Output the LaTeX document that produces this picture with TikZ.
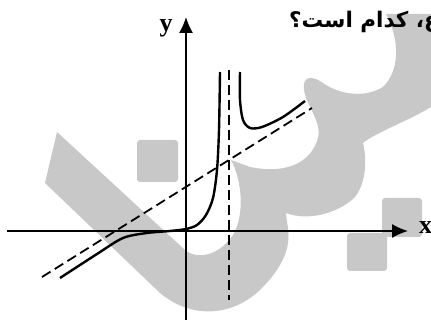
\documentclass[tikz,border=0pt]{standalone}
\usepackage{fontspec}
\setmainfont{Liberation Serif}
\newfontfamily\persianfont[Script=Arabic]{DejaVu Sans}
\TeXXeTstate=1
\usetikzlibrary{arrows.meta}
\definecolor{wmgray}{HTML}{C8C8C8}

\begin{document}
\begin{tikzpicture}[x=1pt,y=-1pt,
    axisline/.style={line width=1.4pt,-{Latex[length=16pt,width=14pt]}},
    asymline/.style={line width=1.8pt,dash pattern=on 10pt off 5pt},
    graphline/.style={line width=2.4pt},
    wmark/.style={fill=wmgray,draw=none},
    wbox/.style={wmark,rounded corners=3pt},
    lbl/.style={font=\bfseries\fontsize{26}{26}\selectfont,inner sep=0pt}
]
    \useasboundingbox (0,0) rectangle (431,320);

    % watermark
    \fill[wmark] (57,132) -- (45,183) -- (160,293)
        .. controls (190,318) and (230,318) .. (260,290)
        .. controls (285,265) and (292,245) .. (287,222)
        -- (286,213)
        .. controls (310,222) and (340,212) .. (355,197)
        .. controls (368,180) and (366,155) .. (363,143)
        .. controls (375,133) and (410,120) .. (431,107)
        -- (445,105) -- (445,14) -- (386,14)
        .. controls (400,40) and (400,70) .. (383,87)
        .. controls (365,98) and (340,95) .. (323,83)
        .. controls (312,75) and (302,76) .. (304,90)
        .. controls (306,105) and (322,122) .. (318,138)
        .. controls (312,160) and (290,175) .. (250,167)
        -- (231,160)
        .. controls (242,180) and (245,215) .. (233,235)
        .. controls (222,252) and (200,262) .. (185,250)
        -- cycle;
    \fill[wbox] (137,140) rectangle (178,182);
    \fill[wbox] (382,198) rectangle (422,237);
    \fill[wbox] (347,233) rectangle (387,271);

    % axes
    \coordinate (xs) at (7,231);
    \coordinate (xe) at (408,231);
    \coordinate (ys) at (186,320);
    \coordinate (ye) at (186,17);
    \draw[axisline] (xs) -- (xe);
    \draw[axisline] (ys) -- (ye);
    \node[lbl,anchor=west] (xlab) at (419,228) {x};
    \node[lbl] (ylab) at (166,28) {y};

    % asymptotes
    \coordinate (va) at (229,70);
    \coordinate (vb) at (229,300);
    \coordinate (oa) at (42,277);
    \coordinate (ob) at (312,108);
    \draw[asymline] (va) -- (vb);
    \draw[asymline] (oa) -- (ob);

    % graph
    \draw[graphline] plot[smooth] coordinates {(60,278) (97,254) (123,238)
        (147,233) (170,231) (186,229) (197,225) (206,215) (213,198) (217,170)
        (219,130) (220,72)};
    \draw[graphline] plot[smooth] coordinates {(240,72) (240,100) (243,120)
        (250,128) (262,127) (283,117) (305,101)};

    \node[anchor=base west,inner sep=0pt,
        font=\persianfont\bfseries\fontsize{21.5}{24}\selectfont] (qtext) at (289,28)
        {\beginR ع، کدام است؟\endR};
\end{tikzpicture}
\end{document}
